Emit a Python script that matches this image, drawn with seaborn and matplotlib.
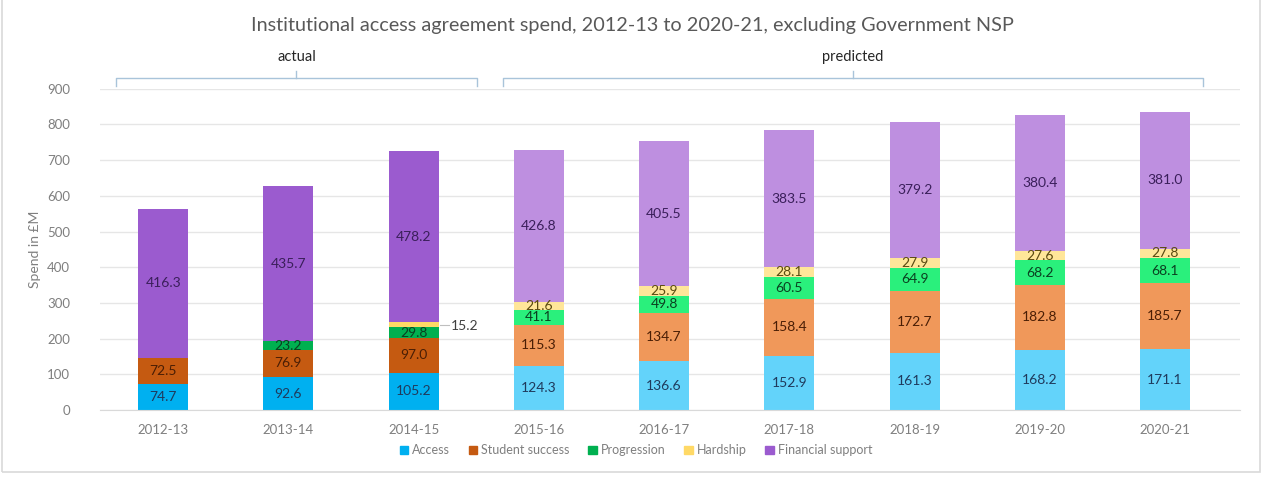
import matplotlib
matplotlib.use('Agg')
import matplotlib.pyplot as plt
import seaborn as sns
import pandas as pd
import numpy as np
from matplotlib.patches import Rectangle

years = ['2012-13', '2013-14', '2014-15', '2015-16', '2016-17',
         '2017-18', '2018-19', '2019-20', '2020-21']
n_actual = 3

access = [74.7, 92.6, 105.2, 124.3, 136.6, 152.9, 161.3, 168.2, 171.1]
student_success = [72.5, 76.9, 97.0, 115.3, 134.7, 158.4, 172.7, 182.8, 185.7]
progression = [0, 23.2, 29.8, 41.1, 49.8, 60.5, 64.9, 68.2, 68.1]
hardship = [0, 0, 15.2, 21.6, 25.9, 28.1, 27.9, 27.6, 27.8]
financial_support = [416.3, 435.7, 478.2, 426.8, 405.5, 383.5, 379.2, 380.4, 381.0]

series_names = ['Access', 'Student success', 'Progression', 'Hardship', 'Financial support']
series_values = [access, student_success, progression, hardship, financial_support]

# actual years darker, predicted lighter
dark_cols = ['#00B0F0', '#C55A11', '#00B050', '#FFD966', '#9B5BCF']
light_cols = ['#63D3FA', '#F0985A', '#2AF07C', '#FFE699', '#BE8FE0']
label_cols = ['#1F3A5C', '#4A1E05', '#0A4020', '#5A4A10', '#3A1F5A']

plt.rcParams['font.family'] = ['Lato', 'DejaVu Sans']

fig = plt.figure(figsize=(12.72, 4.96), dpi=100)
ax = fig.add_axes([0.079, 0.173, 0.896, 0.648])

df = pd.DataFrame({'Year': years})
cum = np.zeros(len(years))
cums = []
for vals in series_values:
    cum = cum + np.array(vals)
    cums.append(cum.copy())

# draw from top layer down so lower layers cover the upper bars
for i in reversed(range(len(series_names))):
    pal = [dark_cols[i] if k < n_actual else light_cols[i] for k in range(len(years))]
    df['total'] = cums[i]
    sns.barplot(data=df, x='Year', y='total', hue='Year', palette=pal,
                legend=False, width=0.4, saturation=1, ax=ax, zorder=2)

# segment labels
for i, vals in enumerate(series_values):
    for k, v in enumerate(vals):
        if v == 0:
            continue
        center = cums[i][k] - v / 2
        if i == 3 and k < n_actual:
            ax.plot([k + 0.21, k + 0.28], [center, center], color='#BFBFBF', lw=0.8,
                    zorder=3, clip_on=False)
            ax.text(k + 0.3, center - 4, f'{v:.1f}', ha='left', va='center',
                    fontsize=10, color='#404040')
            continue
        ax.text(k, center, f'{v:.1f}', ha='center', va='center', fontsize=10,
                color=label_cols[i], zorder=4)

ax.set_ylim(0, 900)
ax.set_xlim(-0.5, len(years) - 0.4)
ax.set_yticks(range(0, 901, 100))
ax.grid(axis='y', color='#E6E6E6', lw=1, zorder=0)
ax.set_axisbelow(True)
for s in ax.spines.values():
    s.set_visible(False)
ax.spines['bottom'].set_visible(True)
ax.spines['bottom'].set_color('#D9D9D9')
ax.tick_params(length=0, colors='#7F7F7F', labelsize=9.5)
ax.tick_params(axis='x', pad=10)
ax.tick_params(axis='y', pad=22)
ax.set_xlabel('')
ax.set_ylabel('Spend in £M', fontsize=10, color='#7F7F7F', labelpad=4)

# actual / predicted brackets
trans = ax.get_xaxis_transform()
br_col = '#A9C4DA'
for x0, x1, lab in [(-0.38, n_actual - 0.49, 'actual'),
                    (n_actual - 0.29, len(years) - 0.7, 'predicted')]:
    ax.plot([x0, x0, x1, x1], [1.01, 1.034, 1.034, 1.01], color=br_col, lw=1,
            transform=trans, clip_on=False)
    mid = (x0 + x1) / 2
    ax.plot([mid, mid], [1.034, 1.055], color=br_col, lw=1, transform=trans, clip_on=False)
    ax.text(mid, 1.1, lab, ha='center', va='center', fontsize=10.5,
            color='#262626', transform=trans)

fig.text(0.497, 0.948, 'Institutional access agreement spend, 2012-13 to 2020-21, excluding Government NSP',
         ha='center', va='center', fontsize=14.3, color='#595959')

handles = [Rectangle((0, 0), 1, 1, color=dark_cols[i]) for i in range(len(series_names))]
fig.legend(handles, series_names, loc='center', bbox_to_anchor=(0.5, 0.092), ncol=5,
           frameon=False, fontsize=9, handlelength=0.7, handleheight=0.7,
           handletextpad=0.3, columnspacing=1.5, labelcolor='#7F7F7F')

# outer chart frame
fig.patches.append(Rectangle((2 / 1272, 1 - 472 / 496), 1258 / 1272, 480 / 496,
                             transform=fig.transFigure, fill=False,
                             edgecolor='#D9D9D9', lw=1.2))

fig.savefig('out.png', dpi=100, facecolor='white')
